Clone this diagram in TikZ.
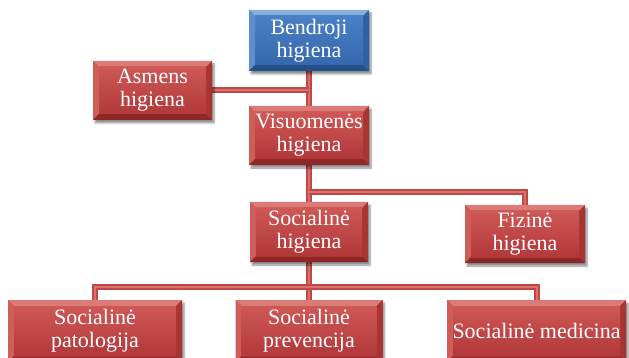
\documentclass[tikz,border=0pt]{standalone}
\usepackage{fontspec}
\setmainfont{Liberation Serif}
\usetikzlibrary{shadows.blur,backgrounds,calc}
\definecolor{rbase}{HTML}{C0413F}
\definecolor{rlight}{HTML}{DB7B78}
\definecolor{rside}{HTML}{CF5E5B}
\definecolor{rdark}{HTML}{8E2828}
\definecolor{rright}{HTML}{A83533}
\definecolor{rtop}{HTML}{CE5856}
\definecolor{rbot}{HTML}{B2383A}
\definecolor{bbase}{HTML}{3E74BA}
\definecolor{blight}{HTML}{88AEDD}
\definecolor{bside}{HTML}{5E8ECC}
\definecolor{bdark}{HTML}{24508A}
\definecolor{bright}{HTML}{2F61A3}
\definecolor{btop}{HTML}{4B80C4}
\definecolor{bbot}{HTML}{3568AE}
\definecolor{lineout}{HTML}{C04745}
\definecolor{linein}{HTML}{D6716E}
\tikzset{
  bevel/.style n args={7}{
    fill=#1,
    path picture={
      \def\pp{path picture bounding box}
      \fill[#2] (\pp.north west) -- (\pp.north east) -- ([shift={(-6pt,-6pt)}]\pp.north east) -- ([shift={(6pt,-6pt)}]\pp.north west) -- cycle;
      \fill[#3] (\pp.north west) -- ([shift={(6pt,-6pt)}]\pp.north west) -- ([shift={(6pt,6pt)}]\pp.south west) -- (\pp.south west) -- cycle;
      \fill[#4] (\pp.south west) -- ([shift={(6pt,6pt)}]\pp.south west) -- ([shift={(-6pt,6pt)}]\pp.south east) -- (\pp.south east) -- cycle;
      \fill[#5] (\pp.north east) -- ([shift={(-6pt,-6pt)}]\pp.north east) -- ([shift={(-6pt,6pt)}]\pp.south east) -- (\pp.south east) -- cycle;
      \shade[top color=#6, bottom color=#7] ([shift={(6pt,-6pt)}]\pp.north west) rectangle ([shift={(-6pt,6pt)}]\pp.south east);
    }},
  boxbase/.style={rectangle, inner sep=0pt, text=white, align=center,
    font=\fontsize{22}{23}\selectfont,
    blur shadow={shadow xshift=2pt, shadow yshift=-3pt, shadow blur steps=6, shadow opacity=45}},
  redbox/.style={boxbase, bevel={rbase}{rlight}{rside}{rdark}{rright}{rtop}{rbot}},
  bluebox/.style={boxbase, bevel={bbase}{blight}{bside}{bdark}{bright}{btop}{bbot}},
  conn/.style={draw=lineout, line width=2pt, double=linein, double distance=2pt}
}
\begin{document}
\begin{tikzpicture}[x=1pt, y=-1pt]
\useasboundingbox (0,0) rectangle (629,358);
\node[bluebox, minimum width=120pt, minimum height=61pt] (bend) at (309,40.5) {Bendroji\\higiena};
\node[redbox, minimum width=119pt, minimum height=59pt] (asm) at (152.5,90.5) {Asmens\\higiena};
\node[redbox, minimum width=120pt, minimum height=59pt] (vis) at (309,135.5) {Visuomenės\\higiena};
\node[redbox, minimum width=118pt, minimum height=60pt] (soc) at (309,232) {Socialinė\\higiena};
\node[redbox, minimum width=120pt, minimum height=58pt] (fiz) at (525,234) {Fizinė\\higiena};
\node[redbox, minimum width=174pt, minimum height=62pt] (pat) at (95,331) {Socialinė\\patologija};
\node[redbox, minimum width=147pt, minimum height=62pt] (prev) at (309,331) {Socialinė\\prevencija};
\node[redbox, minimum width=179pt, minimum height=62pt] (med) at (536.5,331) {Socialinė medicina};
\begin{scope}[on background layer]
\draw[conn] (bend.south) -- (vis.north);
\draw[conn] (asm.east) -- (asm.east -| bend.south);
\draw[conn] (vis.south) -- (soc.north);
\draw[conn] ([yshift=10pt]soc.north) -| (fiz.north);
\draw[conn] (soc.south) -- (prev.north);
\draw[conn] ([yshift=13pt]prev.north) -| (pat.north);
\draw[conn] ([yshift=13pt]prev.north) -| (med.north);
\end{scope}
\end{tikzpicture}
\end{document}
